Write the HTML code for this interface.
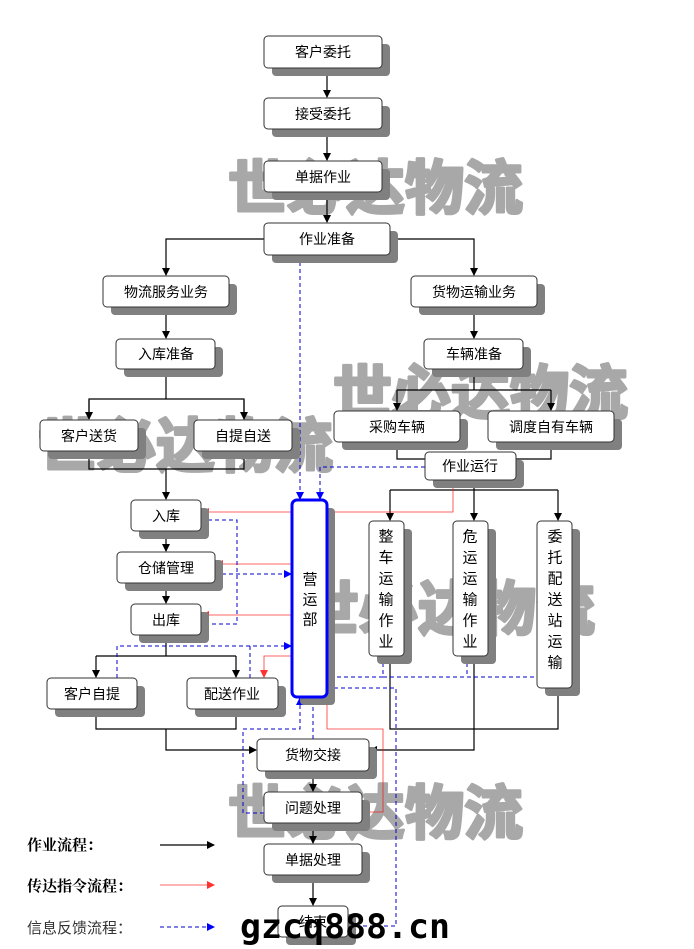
<!DOCTYPE html>
<html><head><meta charset="utf-8"><style>
body{margin:0;background:#fff;width:694px;height:949px;overflow:hidden}
svg{display:block}
text{font-family:"Liberation Sans","Noto Sans CJK SC",sans-serif}
.t{font-size:14px;fill:#000;text-anchor:middle;dominant-baseline:central}
.wm{font-size:59px;font-weight:bold;fill:#a8a8a8;stroke:#a8a8a8;stroke-width:3;stroke-linejoin:round;font-family:"WenQuanYi Zen Hei","Noto Sans CJK SC",sans-serif}
</style></head><body>
<svg width="694" height="949" viewBox="0 0 694 949">
<defs>
<marker id="ak" markerWidth="8" markerHeight="8" refX="7" refY="4" orient="auto" markerUnits="userSpaceOnUse"><path d="M0,0L8,4L0,8z" fill="#000"/></marker>
<marker id="ar" markerWidth="8" markerHeight="8" refX="7" refY="4" orient="auto" markerUnits="userSpaceOnUse"><path d="M0,0L8,4L0,8z" fill="#f00"/></marker>
<marker id="ab" markerWidth="8" markerHeight="8" refX="7" refY="4" orient="auto" markerUnits="userSpaceOnUse"><path d="M0,0L8,4L0,8z" fill="#00f"/></marker>
</defs>
<!-- watermarks -->
<g class="wm">
<text x="228" y="209">世必达物流</text>
<text x="333" y="414">世必达物流</text>
<text x="38" y="467">世必达物流</text>
<text x="300" y="630">世必达物流</text>
<text x="228" y="834">世必达物流</text>
</g>
<!-- black flow lines -->
<g stroke="#000" stroke-width="1.2" fill="none">
<line x1="327" y1="68" x2="327" y2="97" marker-end="url(#ak)"/>
<line x1="327" y1="129" x2="327" y2="160" marker-end="url(#ak)"/>
<line x1="327" y1="192" x2="327" y2="222" marker-end="url(#ak)"/>
<polyline points="264,239 166,239 166,275" marker-end="url(#ak)"/>
<polyline points="390,239 474,239 474,275" marker-end="url(#ak)"/>
<line x1="166" y1="307" x2="166" y2="338" marker-end="url(#ak)"/>
<line x1="474" y1="307" x2="474" y2="338" marker-end="url(#ak)"/>
<line x1="166" y1="369" x2="166" y2="399"/>
<polyline points="89,419 89,399 244,399 244,419" />
<line x1="89" y1="400" x2="89" y2="419" marker-end="url(#ak)"/>
<line x1="244" y1="400" x2="244" y2="419" marker-end="url(#ak)"/>
<polyline points="89,451 89,469 244,469 244,451"/>
<line x1="166" y1="469" x2="166" y2="499" marker-end="url(#ak)"/>
<line x1="474" y1="369" x2="474" y2="390"/>
<polyline points="397,390 551,390"/>
<line x1="397" y1="390" x2="397" y2="410" marker-end="url(#ak)"/>
<line x1="551" y1="390" x2="551" y2="410" marker-end="url(#ak)"/>
<polyline points="397,442 397,459 425,459"/>
<polyline points="551,442 551,459 516,459"/>
<polyline points="474,480 474,490"/>
<polyline points="390,490 558,490"/>
<line x1="390" y1="490" x2="390" y2="520" marker-end="url(#ak)"/>
<line x1="474" y1="490" x2="474" y2="520" marker-end="url(#ak)"/>
<line x1="558" y1="490" x2="558" y2="520" marker-end="url(#ak)"/>
<polyline points="390,656 390,729 558,729 558,688"/>
<polyline points="474,656 474,750 370,750" marker-end="url(#ak)"/>
<line x1="166" y1="531" x2="166" y2="551" marker-end="url(#ak)"/>
<line x1="166" y1="583" x2="166" y2="603" marker-end="url(#ak)"/>
<line x1="166" y1="635" x2="166" y2="656"/>
<polyline points="96,656 236,656"/>
<line x1="96" y1="656" x2="96" y2="677" marker-end="url(#ak)"/>
<line x1="236" y1="656" x2="236" y2="677" marker-end="url(#ak)"/>
<polyline points="96,709 96,729 236,729 236,709"/>
<polyline points="166,729 166,750 256,750" marker-end="url(#ak)"/>
<line x1="313" y1="771" x2="313" y2="791" marker-end="url(#ak)"/>
<line x1="313" y1="823" x2="313" y2="843" marker-end="url(#ak)"/>
<line x1="313" y1="875" x2="313" y2="905" marker-end="url(#ak)"/>
<line x1="160" y1="845" x2="214" y2="845" marker-end="url(#ak)"/>
</g>
<!-- red lines -->
<g stroke="#f00" stroke-width="0.8" fill="none" opacity="0.8">
<line x1="292" y1="512" x2="202" y2="512" marker-end="url(#ar)"/>
<line x1="292" y1="564" x2="216" y2="564" marker-end="url(#ar)"/>
<line x1="292" y1="615" x2="202" y2="615" marker-end="url(#ar)"/>
<polyline points="292,656 264,656 264,677" marker-end="url(#ar)"/>
<polyline points="327,512 453,512 453,481" marker-end="url(#ar)"/>
<polyline points="327,697 327,729 383,729 383,812 363,812" marker-end="url(#ar)"/>
<line x1="160" y1="885" x2="214" y2="885" marker-end="url(#ar)"/>
</g>
<!-- blue dashed -->
<g stroke="#00c" stroke-width="1" fill="none" stroke-dasharray="4,3">
<line x1="300" y1="255" x2="300" y2="499" marker-end="url(#ab)"/>
<polyline points="425,467 320,467 320,499" marker-end="url(#ab)"/>
<polyline points="201,520 237,520 237,624 201,624"/>
<line x1="215" y1="574" x2="291" y2="574" marker-end="url(#ab)"/>
<polyline points="117,678 117,646 291,646" marker-end="url(#ab)"/>
<line x1="250" y1="678" x2="250" y2="646"/>
<polyline points="383,656 383,677 537,677"/>
<line x1="467" y1="656" x2="467" y2="677"/>
<line x1="383" y1="677" x2="328" y2="677" marker-end="url(#ab)"/>
<polyline points="349,926 396,926 396,688 328,688" marker-end="url(#ab)"/>
<polyline points="264,813 243,813 243,729 300,729 300,698" marker-end="url(#ab)"/>
<line x1="313" y1="739" x2="313" y2="698" marker-end="url(#ab)"/>
<line x1="160" y1="927" x2="214" y2="927" marker-end="url(#ab)"/>
</g>
<!-- boxes -->
<g>
<g fill="#808080">
<rect x="272" y="44" width="118" height="32" rx="4"/>
<rect x="272" y="106" width="118" height="31" rx="4"/>
<rect x="272" y="169" width="118" height="31" rx="4"/>
<rect x="272" y="231" width="126" height="32" rx="4"/>
<rect x="111" y="284" width="126" height="31" rx="4"/>
<rect x="419" y="284" width="126" height="31" rx="4"/>
<rect x="124" y="347" width="99" height="30" rx="4"/>
<rect x="432" y="347" width="99" height="30" rx="4"/>
<rect x="48" y="428" width="98" height="31" rx="4"/>
<rect x="202" y="428" width="98" height="31" rx="4"/>
<rect x="342" y="419" width="126" height="31" rx="4"/>
<rect x="496" y="419" width="126" height="31" rx="4"/>
<rect x="433" y="460" width="91" height="28" rx="4"/>
<rect x="139" y="508" width="70" height="31" rx="4"/>
<rect x="125" y="560" width="98" height="31" rx="4"/>
<rect x="139" y="612" width="70" height="31" rx="4"/>
<rect x="55" y="686" width="90" height="31" rx="4"/>
<rect x="195" y="686" width="91" height="31" rx="4"/>
<rect x="300" y="508" width="35" height="197" rx="4"/>
<rect x="377" y="529" width="35" height="135" rx="4"/>
<rect x="461" y="529" width="35" height="135" rx="4"/>
<rect x="545" y="529" width="35" height="167" rx="4"/>
<rect x="265" y="747" width="112" height="32" rx="4"/>
<rect x="272" y="800" width="98" height="31" rx="4"/>
<rect x="272" y="852" width="98" height="31" rx="4"/>
<rect x="286" y="914" width="70" height="31" rx="4"/>
</g>
<g fill="#fff" stroke="#333" stroke-width="1">
<rect x="264" y="36" width="118" height="32" rx="4"/>
<rect x="264" y="98" width="118" height="31" rx="4"/>
<rect x="264" y="161" width="118" height="31" rx="4"/>
<rect x="264" y="223" width="126" height="32" rx="4"/>
<rect x="103" y="276" width="126" height="31" rx="4"/>
<rect x="411" y="276" width="126" height="31" rx="4"/>
<rect x="116" y="339" width="99" height="30" rx="4"/>
<rect x="424" y="339" width="99" height="30" rx="4"/>
<rect x="40" y="420" width="98" height="31" rx="4"/>
<rect x="194" y="420" width="98" height="31" rx="4"/>
<rect x="334" y="411" width="126" height="31" rx="4"/>
<rect x="488" y="411" width="126" height="31" rx="4"/>
<rect x="425" y="452" width="91" height="28" rx="4"/>
<rect x="131" y="500" width="70" height="31" rx="4"/>
<rect x="117" y="552" width="98" height="31" rx="4"/>
<rect x="131" y="604" width="70" height="31" rx="4"/>
<rect x="47" y="678" width="90" height="31" rx="4"/>
<rect x="187" y="678" width="91" height="31" rx="4"/>
<rect x="369" y="521" width="35" height="135" rx="4"/>
<rect x="453" y="521" width="35" height="135" rx="4"/>
<rect x="537" y="521" width="35" height="167" rx="4"/>
<rect x="257" y="739" width="112" height="32" rx="4"/>
<rect x="264" y="792" width="98" height="31" rx="4"/>
<rect x="264" y="844" width="98" height="31" rx="4"/>
<rect x="278" y="906" width="70" height="31" rx="4"/>
</g>
<rect x="292" y="500" width="35" height="197" rx="5" fill="#fff" stroke="#00f" stroke-width="3"/>
</g>
<!-- labels -->
<g class="t">
<text x="323" y="52">客户委托</text>
<text x="323" y="114">接受委托</text>
<text x="323" y="177">单据作业</text>
<text x="327" y="239">作业准备</text>
<text x="166" y="292">物流服务业务</text>
<text x="474" y="292">货物运输业务</text>
<text x="166" y="354">入库准备</text>
<text x="474" y="354">车辆准备</text>
<text x="89" y="436">客户送货</text>
<text x="243" y="436">自提自送</text>
<text x="397" y="427">采购车辆</text>
<text x="551" y="427">调度自有车辆</text>
<text x="470" y="466">作业运行</text>
<text x="166" y="516">入库</text>
<text x="166" y="568">仓储管理</text>
<text x="166" y="620">出库</text>
<text x="92" y="694">客户自提</text>
<text x="232" y="694">配送作业</text>
<text x="313" y="755">货物交接</text>
<text x="313" y="808">问题处理</text>
<text x="313" y="860">单据处理</text>
<text x="313" y="922">结束</text>
</g>
<g class="t" style="font-size:15px">
<text x="310" y="580">营</text><text x="310" y="600">运</text><text x="310" y="620">部</text>
<text x="386" y="537">整</text><text x="386" y="558">车</text><text x="386" y="579">运</text><text x="386" y="600">输</text><text x="386" y="621">作</text><text x="386" y="642">业</text>
<text x="470" y="537">危</text><text x="470" y="558">运</text><text x="470" y="579">运</text><text x="470" y="600">输</text><text x="470" y="621">作</text><text x="470" y="642">业</text>
<text x="555" y="537">委</text><text x="555" y="558">托</text><text x="555" y="579">配</text><text x="555" y="600">送</text><text x="555" y="621">站</text><text x="555" y="642">运</text><text x="555" y="663">输</text>
</g>
<text x="27" y="850" style="font-size:15px;font-weight:bold;font-family:'Noto Serif CJK SC',serif">作业流程：</text>
<text x="27" y="891" style="font-size:15px;font-weight:bold;font-family:'Noto Serif CJK SC',serif">传达指令流程：</text>
<text x="27" y="933" style="font-size:15px;fill:#333">信息反馈流程：</text>
<text x="240" y="938" textLength="210" lengthAdjust="spacingAndGlyphs" style="font-size:34px;font-weight:bold;font-family:'DejaVu Sans Mono','Liberation Mono',monospace;fill:#000">gzcq888.cn</text>
</svg>
</body></html>
